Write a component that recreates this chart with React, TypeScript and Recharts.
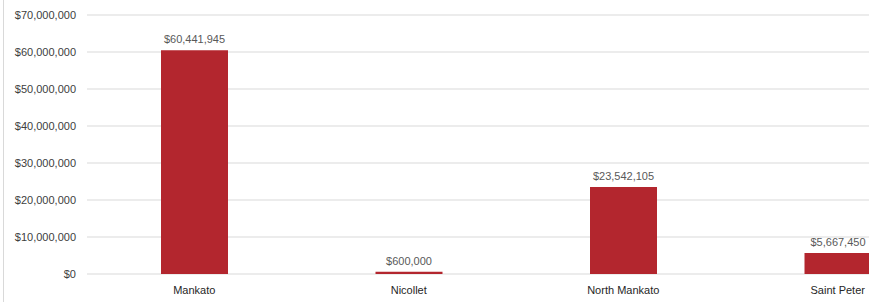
import React from "react";
import { BarChart, Bar, XAxis, YAxis, CartesianGrid, LabelList } from "recharts";

const categories = ["Mankato", "Nicollet", "North Mankato", "Saint Peter"];
const amounts = [60441945, 600000, 23542105, 5667450];
const yTicks = [0, 10000000, 20000000, 30000000, 40000000, 50000000, 60000000, 70000000];

const data = categories.map((name, i) => ({ name, value: amounts[i] }));

const money = (v: number) => "$" + Number(v).toLocaleString("en-US");

const FONT = "'Liberation Sans', Arial, sans-serif";

export default function App() {
  return (
    <div
      style={{
        position: "absolute",
        left: 0,
        top: 0,
        width: 869,
        height: 302,
        overflow: "hidden",
        background: "#fff",
        fontFamily: FONT,
      }}
    >
      <div
        style={{
          position: "absolute",
          left: 3,
          top: 0,
          width: 1,
          height: 302,
          background: "#d9d9d9",
        }}
      />
      <BarChart
        width={960}
        height={302}
        data={data}
        margin={{ top: 15, right: 15, bottom: 8, left: 0 }}
      >
        <CartesianGrid vertical={false} stroke="#d9d9d9" />
        <XAxis
          dataKey="name"
          axisLine={false}
          tickLine={false}
          height={20}
          tick={{ fill: "#262626", fontSize: 11, fontFamily: FONT }}
          tickMargin={6}
        />
        <YAxis
          width={87}
          domain={[0, 70000000]}
          ticks={yTicks}
          axisLine={false}
          tickLine={false}
          tickFormatter={money}
          tick={{ fill: "#404040", fontSize: 11, fontFamily: FONT }}
          tickMargin={5}
        />
        <Bar dataKey="value" fill="#b3262e" barSize={67} isAnimationActive={false}>
          <LabelList
            dataKey="value"
            position="top"
            offset={7}
            formatter={(v: any) => money(v)}
            style={{ fill: "#595959", fontSize: 11, fontFamily: FONT }}
          />
        </Bar>
      </BarChart>
    </div>
  );
}
